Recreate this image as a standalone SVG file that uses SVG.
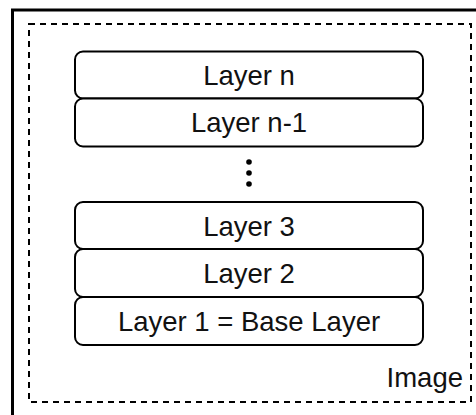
<svg xmlns="http://www.w3.org/2000/svg" width="476" height="415" viewBox="0 0 476 415">
<style>
.layer rect{fill:#fff;stroke:#000;stroke-width:2}
text{font-family:"Liberation Sans",Arial,sans-serif;font-size:27.5px;fill:#111}
.layer text{text-anchor:middle}
</style>
<rect width="476" height="415" fill="#fff"/>
<rect id="frame" x="12.5" y="10" width="480" height="420" fill="none" stroke="#000" stroke-width="3"/>
<g id="image">
<rect x="29" y="24" width="442" height="378" fill="none" stroke="#000" stroke-width="2" stroke-dasharray="6,5"/>
<text x="463" y="387" text-anchor="end">Image</text>
</g>
<g id="layer-n" class="layer"><rect x="75" y="51.5" width="348" height="47" rx="8"/><text x="249" y="84.5">Layer n</text></g>
<g id="layer-n-1" class="layer"><rect x="75" y="98.5" width="348" height="48" rx="8"/><text x="249" y="132">Layer n-1</text></g>
<g id="ellipsis" fill="#000"><circle cx="249" cy="162" r="2.8"/><circle cx="249" cy="173" r="2.8"/><circle cx="249" cy="184" r="2.8"/></g>
<g id="layer-3" class="layer"><rect x="75" y="202" width="348" height="47" rx="8"/><text x="249" y="235.5">Layer 3</text></g>
<g id="layer-2" class="layer"><rect x="75" y="249" width="348" height="48" rx="8"/><text x="249" y="283">Layer 2</text></g>
<g id="layer-1" class="layer"><rect x="75" y="297" width="348" height="48" rx="8"/><text x="249" y="331">Layer 1 = Base Layer</text></g>
<g id="connectors"/>
</svg>
